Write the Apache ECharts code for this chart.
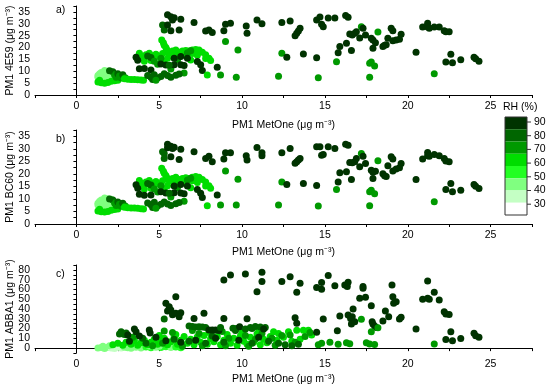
<!DOCTYPE html>
<html><head><meta charset="utf-8">
<script src="https://cdn.jsdelivr.net/npm/echarts@6/dist/echarts.min.js"></script>
<style>html,body{margin:0;padding:0;background:#fff}#c{width:550px;height:392px}</style>
</head><body><div id="c"></div>
<script>
// Each point: [PM1 MetOne, instrument PM1, RH %]
const data4E59 = [
 [1.3,7.5,42],[1.4,8.5,42],[1.5,9.5,42],[1.6,7,42],[1.7,8,43],[1.8,9.5,42],[1.9,10,43],[2.0,8.5,42],[2.1,7.5,43],[1.5,6.5,43],[1.8,6.5,42],[2.2,9,44],[1.4,9,41],[1.7,10.3,42],[2.1,9.8,44],[1.6,8.8,40],[1.9,7.2,41],[1.3,8.2,40],
 [1.3,5.5,56],[1.5,5.2,56],[1.7,5,56],[1.9,5.3,56],[2.1,5.8,56],[2.3,6.0,56],[2.5,6.2,57],[1.4,6.2,56],
 [2.2,9.8,78],[2.3,8.5,75],[2.4,7.5,72],[2.5,9.0,76],[2.6,8,74],[2.7,7.2,72],[2.8,8.5,76],[2.95,7.3,73],[2.0,10.2,84],
 [2.9,6.8,58],[3.1,6.6,58],[3.3,6.5,57],[3.5,6.5,58],[3.7,6.4,57],[3.9,6.3,58],[4.05,6.2,57],
 [3.8,17.6,62],[3.9,16.5,60],[4.0,15.5,62],[4.2,17.0,60],[4.4,17.6,62],[4.6,16.5,61],[4.8,17.2,60],[5.0,16.2,63],[5.2,17.5,60],[5.4,18.2,62],[5.6,17.5,60],[5.8,18.5,62],[6.0,19,60],[6.2,18.0,62],[6.4,18.5,60],[6.6,18.8,61],[6.8,18.5,62],[7.0,19,60],[7.2,19.2,62],[7.4,19,60],[7.6,18,62],[7.8,17,60],[8.0,15.5,62],[8.1,14.5,60],[6.5,17.2,58],[5.5,15.5,58],[4.5,14.5,58],[5.3,14.0,57],[6.2,16,59],[7.0,17.5,58],[4.1,14.2,60],[4.7,15.6,59],[5.9,16.6,58],[7.3,16.8,57],[7.8,15.4,58],[6.9,14.7,60],
 [4.3,16.4,76],[4.5,15.8,76],[4.7,14.2,74],[4.9,13.0,74],[5.1,15.5,72],[6.1,14.7,74],[6.7,17.8,74],[6.9,18.6,70],[5.7,11,74],[6.5,9.3,72],
 [5.15,23.2,58],[5.25,22.0,58],[5.3,21.0,60],[5.4,20.0,60],[5.45,19.2,59],
 [3.6,15.9,88],[3.7,14.6,87],[3.8,11.1,86],[4.1,11.2,87],[4.5,10.5,86],[5.1,13.1,87],[5.4,12.6,88],[5.9,15.5,87],[5.9,12.7,88],[6.3,12.7,87],[6.5,12.4,86],[6.3,16.2,88],[6.7,15.5,87],[7.3,14.1,88],[7.5,12.7,87],[7.6,10.3,88],[8.5,11.7,87],[5.6,12.5,80],
 [4.3,8.2,80],[4.5,7.5,80],[4.7,8.5,80],[4.9,7.2,82],[5.1,7.8,80],[5.3,9.0,82],[5.5,8.2,80],[5.7,7.5,81],[6.0,8.3,80],[6.2,8.8,78],[4.6,6.5,76],[4.8,6.2,74],
 [7.9,8.4,62],[8.7,8.4,72],[9.65,7.5,72],[9.0,22.5,72],[9.75,19,72],
 [5.5,33.8,88],[5.7,33,88],[5.9,32.6,88],[5.8,31.6,86],[5.2,29.5,80],[5.3,29.1,82],[5.3,27.4,80],[5.7,27.1,86],[5.5,29.5,88],[6.2,27.4,86],[6.3,31.9,87],[7.1,30.5,88],[7.8,27,87],[8.0,27.4,86],[8.2,26.3,88],[8.9,27.1,87],[9.0,29.8,88],[9.3,30.2,87],[10.25,29.1,88],[10.3,26,87],[10.9,31.6,88],[11.2,30,87],
 [12.4,30.5,88],[12.9,31.2,88],[13.5,28.1,88],[13.4,27,87],[13.3,26,88],[13.2,25,87],[12.4,17.6,72],[12.7,15.9,88],[12.2,7.9,72],[13.7,17.3,88],[14.5,15.7,88],[14.6,7.3,72],[14.5,31.6,88],[14.7,32.9,88],[14.8,29.8,87],[14.9,28.8,88],[15.2,32.4,88],[15.6,32.4,88],[16.25,33.5,88],[16.4,32.8,87],[15.7,14,72],[15.8,17.8,88],[15.9,20.4,88],[16.3,21.8,88],[16.6,18.7,88],[16.5,25.7,88],[16.65,25.3,87],[16.8,26,88],[16.9,26.6,88],[17.1,24,88],[17.2,28.8,74],[17.3,28.1,88],[17.45,25.3,88],[17.8,23.9,88],[17.9,23.2,87],[18.05,22,88],[17.9,19.7,88],[18.2,26.5,72],[17.7,13.4,72],[17.8,13.9,72],[18.0,12.2,72],[17.7,7.5,72],[18.5,20.4,88],[18.6,21,87],[18.7,21.2,88],[18.8,23.9,88],[19.0,28.1,88],[19.1,27.1,88],[19.1,22.9,88],[19.3,23.2,87],[19.5,23.5,88],[19.6,25.6,88],[20.5,18,88],[20.9,28.6,88],[21.2,30.2,88],[21.2,28.6,87],[21.3,28.1,88],[21.6,28.6,88],[21.9,28.6,88],[22.2,27.1,88],[22.3,26.7,88],[22.5,26.7,88],[21.6,9,72],[22.3,13.9,88],[22.7,13.6,88],[22.6,17.2,88],[23.2,14.8,88],[24.0,15.9,88],[24.1,15.3,88],[24.3,14.2,88]
];
const dataBC60 = [
 [1.3,7.6,42],[1.4,8.6,42],[1.5,9.6,42],[1.6,7.1,42],[1.7,8.1,43],[1.8,9.6,42],[1.9,10.1,43],[2.0,8.6,42],[2.1,7.6,43],[1.5,6.6,43],[1.8,6.6,42],[2.2,9.1,44],[1.4,9.1,41],[1.7,10.4,42],[2.1,9.9,44],[1.6,8.9,40],[1.9,7.3,41],[1.3,8.3,40],
 [1.3,5.2,56],[1.5,4.9,56],[1.7,4.8,56],[1.9,5.0,56],[2.1,5.5,56],[2.3,5.8,56],[2.5,6.0,57],[1.4,5.9,56],
 [2.2,9.6,78],[2.3,8.4,75],[2.4,7.4,72],[2.5,8.8,76],[2.6,7.9,74],[2.7,7.1,72],[2.8,8.3,76],[2.95,7.2,73],[2.0,10.0,84],
 [2.9,6.7,58],[3.1,6.5,58],[3.3,6.4,57],[3.5,6.4,58],[3.7,6.3,57],[3.9,6.1,58],[4.05,6.0,57],
 [3.8,17.4,62],[3.9,16.3,60],[4.0,15.3,62],[4.2,16.8,60],[4.4,17.4,62],[4.6,16.3,61],[4.8,17.0,60],[5.0,16.0,63],[5.2,17.3,60],[5.4,18.0,62],[5.6,17.3,60],[5.8,18.2,62],[6.0,18.7,60],[6.2,17.8,62],[6.4,18.2,60],[6.6,18.5,61],[6.8,18.2,62],[7.0,18.7,60],[7.2,18.9,62],[7.4,18.7,60],[7.6,17.8,62],[7.8,16.8,60],[8.0,15.3,62],[8.1,14.3,60],[6.5,17.0,58],[5.5,15.3,58],[4.5,14.3,58],[5.3,13.8,57],[6.2,15.8,59],[7.0,17.3,58],[4.1,14.0,60],[4.7,15.4,59],[5.9,16.4,58],[7.3,16.6,57],[7.8,15.2,58],[6.9,14.5,60],
 [4.3,16.2,76],[4.5,15.6,76],[4.7,14.0,74],[4.9,12.8,74],[5.1,15.3,72],[6.1,14.5,74],[6.7,17.6,74],[6.9,18.3,70],[5.7,10.8,74],[6.5,9.1,72],
 [5.15,22.2,58],[5.25,21.0,58],[5.3,20.2,60],[5.4,19.3,60],[5.45,18.6,59],
 [3.6,15.7,88],[3.7,14.3,87],[3.8,11.9,86],[4.1,11.5,87],[4.5,11.6,86],[5.1,12.9,87],[5.4,12.4,88],[5.9,15.2,87],[5.9,12.5,88],[6.3,12.4,87],[6.5,12.1,86],[6.3,15.8,88],[6.7,15.2,87],[7.3,13.8,88],[7.5,12.3,87],[7.6,10.6,88],[8.5,11.6,87],[5.6,12.3,80],
 [4.3,8.4,80],[4.5,7.7,80],[4.7,8.7,80],[4.9,7.2,82],[5.1,7.9,80],[5.3,8.8,82],[5.5,8.0,80],[5.7,7.4,81],[6.0,8.1,80],[6.2,8.6,78],[4.6,6.6,76],[4.8,6.3,74],
 [7.9,7.3,62],[8.7,7.6,72],[9.65,7.6,72],[9.0,21.1,72],[9.75,17.9,72],
 [5.5,31.8,88],[5.7,31.0,88],[5.9,30.6,88],[5.8,30.1,86],[5.2,28.8,80],[5.3,28.1,82],[5.3,26.1,80],[5.7,26.8,86],[5.5,30.4,88],[6.2,25.7,86],[6.3,29.8,87],[7.1,28.8,88],[7.8,26.1,87],[8.0,27,86],[8.2,24.8,88],[8.9,25.9,87],[9.0,28.4,88],[9.3,28.4,87],[10.25,27.2,88],[10.3,25.5,87],[10.9,30.5,88],[11.2,28.4,87],[11.2,27.2,88],
 [12.4,28.4,88],[12.9,30.1,88],[13.5,26.1,88],[13.4,25.5,87],[13.3,24.8,88],[13.2,24.2,87],[12.4,16.8,72],[12.7,15.8,88],[12.2,7.6,72],[13.7,16.2,88],[14.5,15.4,88],[14.6,7.2,72],[14.5,30.8,88],[14.7,30.8,88],[14.8,27.4,87],[14.9,27.7,88],[15.2,30.8,88],[15.6,30.1,88],[16.25,31.8,88],[16.4,31.4,87],[15.7,13.8,72],[15.8,16.8,88],[15.9,20.4,88],[16.3,20.8,88],[16.6,17.8,88],[16.5,24.5,88],[16.65,24.4,87],[16.8,24.8,88],[16.9,26.1,88],[17.1,22.8,88],[17.2,28.1,74],[17.3,27,88],[17.45,24.1,88],[17.8,21.4,88],[17.9,20.6,87],[18.05,21.0,88],[17.9,18.2,88],[18.2,25.2,72],[17.7,12.9,72],[17.8,13.5,72],[18.0,12.1,72],[17.7,7.3,72],[18.5,20.0,88],[18.6,19.2,87],[18.7,18.9,88],[18.8,23.2,88],[19.0,26.8,88],[19.1,25.9,88],[19.1,21.1,88],[19.3,21.9,87],[19.5,22.4,88],[19.6,24.1,88],[20.5,17.8,88],[20.9,25.9,88],[21.2,28.5,88],[21.2,27.2,87],[21.3,27.0,88],[21.6,27.7,88],[21.9,27.2,88],[22.2,26.1,88],[22.3,25.1,88],[22.5,24.8,88],[21.6,8.9,72],[22.3,13.8,88],[22.7,12.9,88],[22.6,16.2,88],[23.2,13.5,88],[24.0,15.8,88],[24.1,15.1,88],[24.3,14.2,88]
];
const dataABBA1 = [
 [1.3,0,42],[1.5,0.5,40],[1.7,-0.5,38],[1.9,1,40],[2.1,0.2,35],[2.3,-0.3,33],[2.5,0.8,32],[2.7,0,35],[2.9,1,38],[3.1,0.3,40],[3.3,-0.2,42],[3.6,0.8,44],[3.9,0.2,44],[4.2,1.2,48],[4.5,0.3,47],[4.8,1,44],[5.1,0.5,48],[5.4,1.5,46],[5.7,0.6,44],[6.0,1.2,48],[6.3,0.4,46],[5.0,2,44],[4.4,2.2,43],[2.0,2.5,44],[1.6,1.8,44],
 [2.2,3.5,60],[2.5,5,62],[2.8,3,58],[3.0,6,60],[3.3,4,62],[3.5,7.5,60],[3.7,3,58],[3.9,5.5,62],[4.1,8,60],[4.3,3.5,58],[4.5,6,60],[4.7,9,62],[4.9,4,60],[5.1,7,58],[5.3,10,60],[5.5,3.5,62],[5.7,6.5,60],[5.9,11,62],[6.1,4,58],[6.3,8,60],[6.5,12,62],[6.7,5,60],[6.9,9,58],[7.1,3.5,62],[7.3,11.5,60],[7.5,6,62],[7.7,13,58],[7.9,4,60],[8.1,9.5,62],[8.3,6.5,60],[8.5,12,58],[8.7,3.5,62],[8.9,8,60],[9.1,14,60],[9.3,5,62],[9.5,10,58],[9.7,3,60],[9.9,12.5,62],[10.1,7,60],[10.3,4,58],[10.5,11,62],[10.7,6,60],[10.9,14.5,60],[11.1,3.5,62],[11.3,9,58],[11.5,5.5,60],[11.7,12,62],[11.9,16.7,62],[12.1,8,60],[12.2,15,62],[12.5,11,58],[12.8,16.7,60],[13.0,7,62],[13.3,18.3,60],[13.5,9,62],[13.7,18.3,58],[14.0,18.3,60],[14.2,13.3,62],[6.0,14,60],[5.0,13,60],[10.0,16,60],[11.0,17,62],[8.0,16,58],
 [3.4,11,74],[4.0,10,76],[4.6,2.5,72],[5.2,5,74],[6.4,2,72],[6.8,7,76],[7.4,15,74],[7.6,2.5,72],[8.2,12.5,76],[8.8,17,74],[9.2,10,72],[9.6,18,76],[10.2,13,74],[10.6,20,76],[10.8,9,74],[11.2,15,72],[11.4,21,78],[11.8,10,74],[12.4,13,72],[12.9,13.5,74],[13.2,6,72],[13.8,12,74],[14.1,16,72],[9.0,2.5,74],[10.4,2,72],[12.0,3,74],[7.0,18,72],[5.8,16,74],
 [3.2,7,86],[4.2,5,84],[4.8,11,86],[5.4,7.5,88],[5.9,9,84],[6.3,6,86],[7.2,8,88],[7.8,5,84],[8.4,10,86],[8.9,6,84],[9.45,20.2,84],[9.65,20,80],[9.85,21.9,86],[10.2,19.5,82],[10.5,21,80],[10.8,22,84],[11.1,21.5,80],[11.3,19.5,86],[9.8,8,86],[10.6,5,84],[11.0,11,86],[11.6,7,84],[12.2,5,82],[12.6,3.5,84],[13.0,2.5,82],[13.4,4,80],[6.8,22.5,80],[7.0,22,80],[7.2,21.5,80],[7.4,21.8,80],[7.6,21.5,80],[7.8,21,80],[8.0,18.5,86],[8.2,18.5,86],[8.4,18.5,86],[8.6,18,86],[8.7,21,84],
 [2.7,16.7,80],[2.8,15.0,82],[2.9,14,80],[2.6,14.5,80],[3.0,15.5,84],[3.5,19.5,88],[3.6,16.7,86],[3.8,12.3,86],[3.1,13.3,88],[4.4,18.5,88],[4.45,15.4,86],[5.3,17.4,72],[5.3,29.8,76],
 [5.4,45.8,88],[5.6,42.4,88],[5.7,39,87],[5.5,38,86],[5.8,34,88],[6.0,35.6,88],[6.3,36.2,87],[6.2,32.1,88],[6.0,52.6,88],[7.1,30.4,88],[7.7,35.6,88],[8.9,30.4,88],[8.9,69.7,88],[9.3,74.9,88],[10.2,75.9,88],[11.2,77.6,88],[11.2,68,88],[10.9,57.7,88],[10.3,30.1,88],
 [14.6,3.5,72],[14.8,5,72],[15.3,6,72],[15.8,4,72],[16.3,5.5,72],[16.5,4.5,72],
 [12.4,68,88],[12.9,73.1,88],[13.5,66.3,88],[13.3,57.1,88],[13.2,31.1,88],[13.3,25.3,88],[14.5,16.1,88],[14.5,61.9,88],[14.8,60.2,88],[14.8,67,88],[15.2,74.2,88],[14.9,29.7,88],[15.6,63.9,88],[15.75,17.8,88],[15.9,32.8,88],[16.2,64.6,88],[16.35,62.9,88],[16.4,67.4,88],[16.7,40,88],[16.4,33.8,88],[16.55,30.4,88],[16.65,32.1,88],[16.6,24.6,88],[16.8,27,88],[17.1,51,88],[17.3,61.2,88],[17.3,62.9,88],[17.45,52,88],[17.2,29.4,72],[17.8,43.4,88],[17.85,27,88],[17.9,24.6,88],[18.0,22.6,88],[18.1,21.2,88],[17.8,16.7,72],[18.2,20.8,72],[17.7,4.1,72],[18.0,3.8,72],[17.5,5.4,72],[18.5,27.7,88],[18.65,37.9,88],[18.85,32.1,88],[19.05,64.6,88],[19.1,52.6,88],[19.3,47.5,88],[19.15,45.8,88],[19.5,29.7,88],[19.6,31.5,88],[20.5,19.5,88],[20.9,49.9,88],[21.2,68.7,88],[21.2,51,88],[21.3,49.9,88],[21.6,57.1,88],[21.9,49.2,88],[21.6,4.1,72],[22.2,37.3,88],[22.3,34.9,88],[22.5,34.5,88],[22.6,16.7,88],[22.3,8.9,88],[22.7,7.5,88],[23.2,9.9,88],[24.0,15.1,88],[24.1,12.6,88],[24.3,11,88]
];
const rhTickLabels = ['90','80','70','60','50','40','30'];
const rhBandEdges = [85,75,65,55,45,35,25];
const rhBandColors = ['#003300','#006600','#009900','#00dd00','#22ff22','#80ff80','#c4ffc4','#ffffff'];
const panelTags = ['a)','b)','c)'];
const yTitles = ['PM1 4E59 (\u03bcg m\u207b\u00b3)','PM1 BC60 (\u03bcg m\u207b\u00b3)','PM1 ABBA1 (\u03bcg m\u207b\u00b3)'];
const xTitle = 'PM1 MetOne (\u03bcg m\u207b\u00b3)';

const FONT = 'Liberation Sans, Arial, sans-serif';
const FS = 10.5;
const grids = [
  {left:35, top:6, width:497, height:89, outerBoundsMode:'none', containLabel:false},
  {left:35, top:130, width:497, height:94, outerBoundsMode:'none', containLabel:false},
  {left:35, top:265, width:497, height:88, outerBoundsMode:'none', containLabel:false}
];
const yRanges = [[0,37.5,2.5,5],[0,37.5,2.5,5],[-5,85,5,10]];
const xNameGaps = [25,23,21];
const axisLineStyle = {lineStyle:{color:'#000', width:1}};
const xAxes = grids.map((g,i)=>({
  gridIndex:i, type:'value', min:-2.5, max:27.5, interval:2.5,
  axisLine:axisLineStyle, axisTick:{length:3, lineStyle:{color:'#000'}},
  splitLine:{show:false},
  axisLabel:{margin:6, color:'#000', fontSize:FS, fontFamily:FONT,
    formatter:v=> (Math.abs(v%5)<1e-6 ? String(v) : '')},
  name:xTitle, nameLocation:'middle', nameGap:xNameGaps[i], nameMoveOverlap:false,
  nameTextStyle:{color:'#000', fontSize:FS, fontFamily:FONT}
}));
const yAxes = grids.map((g,i)=>({
  gridIndex:i, type:'value', min:yRanges[i][0], max:yRanges[i][1], interval:yRanges[i][2],
  axisLine:{show:true, lineStyle:{color:'#000', width:1}}, axisTick:{show:true, length:3, lineStyle:{color:'#000'}},
  splitLine:{show:false},
  axisLabel:{margin:5, color:'#000', fontSize:FS, fontFamily:FONT,
    formatter:v=> (Math.abs(v%yRanges[i][3])<1e-6 ? String(v) : '')},
  name:yTitles[i], nameLocation:'middle', nameGap:19, nameMoveOverlap:false,
  nameTextStyle:{color:'#000', fontSize:FS, fontFamily:FONT}
}));
const datasets = [data4E59, dataBC60, dataABBA1];
const series = datasets.map((d,i)=>({
  type:'scatter', xAxisIndex:i, yAxisIndex:i, data:d, symbolSize:7,
  itemStyle:{opacity:1}, silent:true
}));
const pieces = rhBandColors.map((c,i)=>{
  const p = {color:c};
  if (i===0) p.gt = rhBandEdges[0];
  else if (i===rhBandColors.length-1) p.lte = rhBandEdges[i-1];
  else { p.gt = rhBandEdges[i]; p.lte = rhBandEdges[i-1]; }
  return p;
});
const LX=505, LY=117, LW=22, LH=12.25;
const graphic = [];
panelTags.forEach((t,i)=>graphic.push({type:'text', left:56, top:grids[i].top+(i===0?-1:4), style:{text:t, fontSize:FS, fontFamily:FONT, fill:'#000'}}));
graphic.push({type:'text', left:503, top:102, style:{text:'RH (%)', fontSize:FS, fontFamily:FONT, fill:'#000'}});
graphic.push({type:'rect', z:100, shape:{x:LX, y:LY, width:LW, height:LH*rhBandColors.length}, style:{fill:null, stroke:'#333', lineWidth:1}});
rhTickLabels.forEach((t,i)=>{
  const y = 122 + i*13.7;
  graphic.push({type:'line', z:100, shape:{x1:LX+LW, y1:y, x2:LX+LW+4, y2:y}, style:{stroke:'#333', lineWidth:1}});
  graphic.push({type:'text', z:100, x:LX+LW+7, y:y, style:{text:t, fontSize:FS, fontFamily:FONT, fill:'#000', verticalAlign:'middle'}});
});
const chart = echarts.init(document.getElementById('c'), null, {renderer:'canvas'});
chart.setOption({
  animation:false,
  backgroundColor:'#fff',
  grid:grids,
  xAxis:xAxes,
  yAxis:yAxes,
  series:series,
  visualMap:{type:'piecewise', orient:'vertical', left:LX, top:LY, itemWidth:LW, itemHeight:LH, itemGap:0, padding:0,
    showLabel:false, itemSymbol:'rect', selectedMode:false, hoverLink:false, dimension:2, seriesIndex:[0,1,2], pieces:pieces},
  graphic:graphic
});
</script></body></html>
